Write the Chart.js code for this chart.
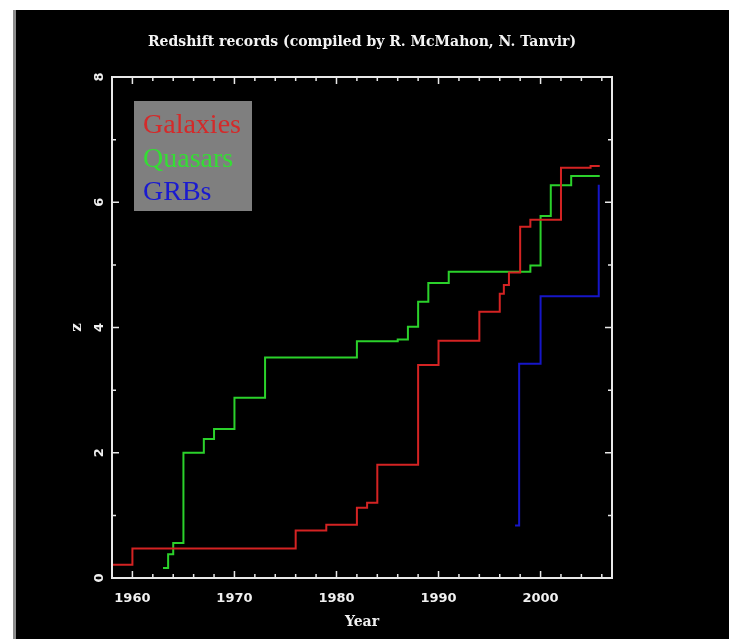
<!DOCTYPE html>
<html>
<head>
<meta charset="utf-8">
<title>Redshift records</title>
<script src="https://cdn.jsdelivr.net/npm/chart.js@4/dist/chart.umd.min.js"></script>
<style>
  html, body { margin: 0; padding: 0; background: #ffffff; }
  canvas { display: block; }
</style>
</head>
<body>
<canvas id="c" width="729" height="639"></canvas>
<script>
// Record redshift (z) versus year of discovery, one step series per class of object
const galaxyYears = [1958, 1960, 1976, 1979, 1982, 1983, 1984, 1988, 1990, 1994, 1996, 1996.4, 1996.9, 1998, 1999, 2002, 2004.9, 2005.8];
const galaxyZ     = [0.21, 0.47, 0.76, 0.85, 1.12, 1.20, 1.81, 3.40, 3.79, 4.25, 4.54, 4.68, 4.88, 5.61, 5.72, 6.55, 6.58, 6.58];

const quasarYears = [1963, 1963.5, 1964, 1965, 1967, 1968, 1970, 1973, 1982, 1986, 1987, 1988, 1989, 1991, 1999, 2000, 2001, 2003, 2005.8];
const quasarZ     = [0.16, 0.38, 0.56, 2.00, 2.22, 2.38, 2.88, 3.52, 3.78, 3.81, 4.01, 4.41, 4.71, 4.89, 4.99, 5.78, 6.27, 6.42, 6.42];

const grbYears = [1997.5, 1997.9, 2000.0, 2005.7];
const grbZ     = [0.84, 3.42, 4.50, 6.28];

const seriesNames = ['Galaxies', 'Quasars', 'GRBs'];
const yearTicks = [1960, 1970, 1980, 1990, 2000];
const zTicks = [0, 2, 4, 6, 8];

const toPoints = (xs, ys) => xs.map((x, i) => ({ x, y: ys[i] }));

// black panel with a grey left rule on a white page
const backdrop = {
  id: 'backdrop',
  beforeDraw(chart) {
    const ctx = chart.ctx;
    ctx.save();
    ctx.fillStyle = '#ffffff';
    ctx.fillRect(0, 0, chart.width, chart.height);
    ctx.fillStyle = '#000000';
    ctx.fillRect(16, 10, chart.width - 16, chart.height - 10);
    ctx.fillStyle = '#8c8c8c';
    ctx.fillRect(13, 10, 3, chart.height - 10);
    ctx.restore();
  }
};

// box frame with inward major/minor ticks on all four sides
const frame = {
  id: 'frame',
  afterDraw(chart) {
    const { ctx, chartArea: a, scales: { x, y } } = chart;
    ctx.save();
    ctx.strokeStyle = '#e8e8e8';
    ctx.lineWidth = 2;
    ctx.strokeRect(a.left, a.top, a.right - a.left, a.bottom - a.top);
    ctx.lineWidth = 1.5;
    ctx.beginPath();
    for (let yr = 1958; yr <= 2006; yr += 2) {
      const len = yr % 10 === 0 ? 7 : 4;
      const px = x.getPixelForValue(yr);
      ctx.moveTo(px, a.bottom); ctx.lineTo(px, a.bottom - len);
      ctx.moveTo(px, a.top); ctx.lineTo(px, a.top + len);
    }
    for (let z = 1; z < 8; z++) {
      const len = z % 2 === 0 ? 7 : 4;
      const py = y.getPixelForValue(z);
      ctx.moveTo(a.left, py); ctx.lineTo(a.left + len, py);
      ctx.moveTo(a.right, py); ctx.lineTo(a.right - len, py);
    }
    ctx.stroke();
    ctx.restore();
  }
};

// grey key box in the upper left of the plot, names written in each series colour
const keyBox = {
  id: 'keyBox',
  afterDatasetsDraw(chart) {
    const { ctx, chartArea: a } = chart;
    const bx = a.left + 22, by = a.top + 24;
    ctx.save();
    ctx.fillStyle = '#7f7f7f';
    ctx.fillRect(bx, by, 118, 110);
    ctx.font = '28px "Liberation Serif", "Times New Roman", serif';
    ctx.textBaseline = 'alphabetic';
    ctx.textAlign = 'left';
    const baselines = [32, 66, 99];
    chart.data.datasets.forEach((ds, i) => {
      ctx.fillStyle = ds.keyColor;
      ctx.fillText(ds.label, bx + 9, by + baselines[i]);
    });
    ctx.restore();
  }
};

const tickFont = { family: '"DejaVu Sans", sans-serif', size: 13, weight: 'bold' };

new Chart(document.getElementById('c'), {
  type: 'line',
  data: {
    datasets: [
      { label: seriesNames[0], data: toPoints(galaxyYears, galaxyZ), borderColor: '#d42323', keyColor: '#d42a2a' },
      { label: seriesNames[1], data: toPoints(quasarYears, quasarZ), borderColor: '#2bd12b', keyColor: '#35dd35' },
      { label: seriesNames[2], data: toPoints(grbYears, grbZ), borderColor: '#1616c8', keyColor: '#1a1ad0' }
    ]
  },
  options: {
    responsive: false,
    animation: false,
    devicePixelRatio: 1,
    layout: { padding: { left: 0, right: 117, top: 0, bottom: 0 } },
    elements: {
      line: { borderWidth: 2, stepped: true, tension: 0, fill: false },
      point: { radius: 0, hoverRadius: 0 }
    },
    plugins: {
      legend: { display: false },
      tooltip: { enabled: false },
      title: {
        display: true,
        fullSize: false,
        text: 'Redshift records (compiled by R. McMahon, N. Tanvir)',
        color: '#f4f4f4',
        font: { family: '"DejaVu Serif", serif', size: 14, weight: 'bold', lineHeight: 1.2 },
        padding: { top: 33.6, bottom: 26.6 }
      }
    },
    scales: {
      x: {
        type: 'linear',
        min: 1958,
        max: 2007,
        afterBuildTicks: s => { s.ticks = yearTicks.map(v => ({ value: v })); },
        afterFit: s => { s.height = 61; },
        grid: { display: false },
        border: { display: false },
        ticks: { color: '#f0f0f0', font: tickFont, padding: 5, maxRotation: 0, autoSkip: false, callback: v => String(v) },
        title: {
          display: true,
          text: 'Year',
          color: '#f0f0f0',
          font: { family: '"DejaVu Serif", serif', size: 14, weight: 'bold', lineHeight: 1.2 },
          padding: { top: 0, bottom: 8.6 }
        }
      },
      y: {
        type: 'linear',
        min: 0,
        max: 8,
        afterBuildTicks: s => { s.ticks = zTicks.map(v => ({ value: v })); },
        afterFit: s => { s.width = 112; },
        grid: { display: false },
        border: { display: false },
        ticks: { color: '#f0f0f0', font: tickFont, padding: 0, minRotation: 90, maxRotation: 90, crossAlign: 'center', autoSkip: false, callback: v => String(v) },
        title: {
          display: true,
          text: 'z',
          color: '#f0f0f0',
          font: { family: '"DejaVu Serif", serif', size: 15, weight: 'bold', lineHeight: 1.2 },
          padding: { top: 68, bottom: 0 }
        }
      }
    }
  },
  plugins: [backdrop, keyBox, frame]
});
</script>
</body>
</html>
